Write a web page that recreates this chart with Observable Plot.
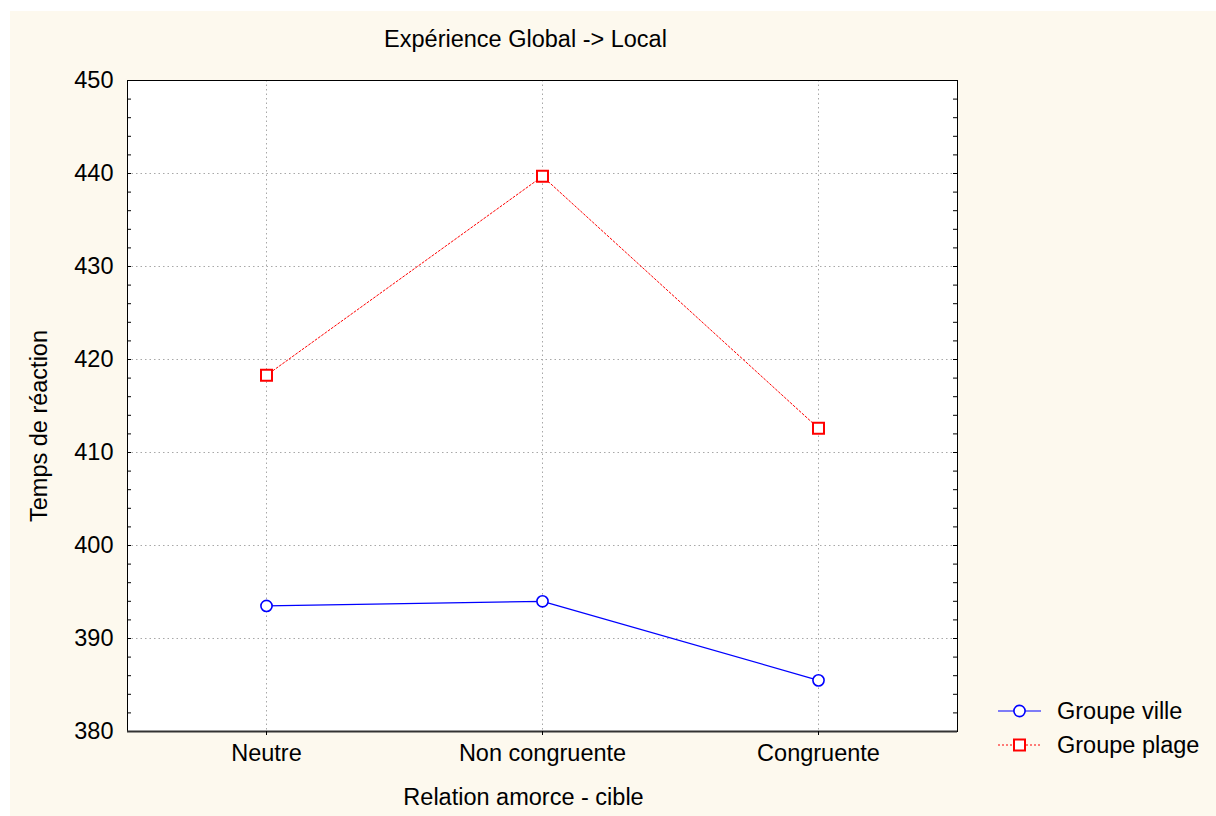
<!DOCTYPE html>
<html>
<head>
<meta charset="utf-8">
<script src="https://cdn.jsdelivr.net/npm/d3@7"></script>
<script src="https://cdn.jsdelivr.net/npm/@observablehq/plot@0.6"></script>
<style>
  html, body { margin: 0; padding: 0; background: #ffffff; }
  #panel { position: absolute; left: 10px; top: 11px; width: 1206px; height: 805px; background: #fdf9ee; overflow: hidden; }
  #legend { position: absolute; left: 988px; top: 683px; font-family: "Liberation Sans", Arial, sans-serif; font-size: 23.5px; color: #000; }
  .row { display: flex; align-items: center; height: 34px; }
  .row svg { margin-right: 4px; }
</style>
</head>
<body>
<div id="panel"><div id="chart"></div>
<div id="legend"></div></div>
<script>
const categories = ["Neutre", "Non congruente", "Congruente"];
const villeValues = [393.5, 394.0, 385.5];
const plageValues = [418.3, 439.7, 412.6];
const seriesNames = ["Groupe ville", "Groupe plage"];
const yTicks = [380, 390, 400, 410, 420, 430, 440, 450];
const yMinorTicks = d3.range(380, 451, 2);
const gridY = [390, 400, 410, 420, 430, 440];

const title = "Expérience Global -> Local";
const xLabel = "Relation amorce - cible";
const yLabel = "Temps de réaction";

const ville = categories.map((c, i) => ({cat: c, value: villeValues[i]}));
const plage = categories.map((c, i) => ({cat: c, value: plageValues[i]}));

const W = 1206, H = 805;
const mL = 117, mT = 69, mR = 259, mB = 85;
const frameW = W - mL - mR;
const font = "'Liberation Sans', Arial, sans-serif";
const fs = 23.5;

const chart = Plot.plot({
  width: W,
  height: H,
  marginLeft: mL,
  marginTop: mT,
  marginRight: mR,
  marginBottom: mB,
  style: {background: "transparent", fontFamily: font, fontSize: fs + "px", color: "#000", overflow: "visible"},
  x: {type: "point", domain: categories, padding: 0.5},
  y: {domain: [380, 450]},
  marks: [
    Plot.frame({fill: "white"}),
    Plot.ruleY(gridY, {stroke: "#a8a8a8", strokeDasharray: "1.5,3"}),
    Plot.ruleX(categories, {stroke: "#a8a8a8", strokeDasharray: "1.5,3"}),
    Plot.ruleY(yMinorTicks, {stroke: "#000", insetRight: frameW - 4}),
    Plot.ruleY(yMinorTicks, {stroke: "#000", insetLeft: frameW - 4}),
    Plot.frame({stroke: "#000", strokeWidth: 1}),
    Plot.ruleY([380], {stroke: "#333", strokeWidth: 2}),
    Plot.axisY({ticks: yTicks, tickSize: 0, tickPadding: 14, fontSize: fs, label: null}),
    Plot.axisX({tickSize: 4, tickPadding: 9, fontSize: fs, label: null}),
    Plot.line(plage, {x: "cat", y: "value", stroke: "#ff0000", strokeWidth: 1, strokeDasharray: "2,2"}),
    Plot.line(ville, {x: "cat", y: "value", stroke: "#0000ff", strokeWidth: 1.2}),
    Plot.dot(plage, {x: "cat", y: "value", symbol: "square", r: 6.2, fill: "white", stroke: "#ff0000", strokeWidth: 2}),
    Plot.dot(ville, {x: "cat", y: "value", symbol: "circle", r: 5.6, fill: "white", stroke: "#0000ff", strokeWidth: 1.6}),
    Plot.text([title], {frameAnchor: "top", dx: -17, dy: -41, lineAnchor: "middle", textAnchor: "middle", fontSize: fs, fill: "#000"}),
    Plot.text([xLabel], {frameAnchor: "bottom", dx: -19, dy: 66, lineAnchor: "middle", textAnchor: "middle", fontSize: fs, fill: "#000"}),
    Plot.text([yLabel], {frameAnchor: "left", dx: -88, dy: 20, rotate: -90, lineAnchor: "middle", textAnchor: "middle", fontSize: fs, fill: "#000"})
  ]
});
document.getElementById("chart").appendChild(chart);

// legend
const legend = document.getElementById("legend");
const legendSpecs = [
  {name: seriesNames[0], color: "#0000ff", dash: null, symbol: "circle"},
  {name: seriesNames[1], color: "#ff0000", dash: "2,2", symbol: "square"}
];
for (const s of legendSpecs) {
  const row = document.createElement("div");
  row.className = "row";
  const ns = "http://www.w3.org/2000/svg";
  const svg = document.createElementNS(ns, "svg");
  svg.setAttribute("width", 55);
  svg.setAttribute("height", 20);
  const line = document.createElementNS(ns, "line");
  line.setAttribute("x1", 0); line.setAttribute("x2", 43);
  line.setAttribute("y1", 10); line.setAttribute("y2", 10);
  line.setAttribute("stroke", s.color);
  line.setAttribute("stroke-width", 1.2);
  if (s.dash) line.setAttribute("stroke-dasharray", s.dash);
  svg.appendChild(line);
  let m;
  if (s.symbol === "circle") {
    m = document.createElementNS(ns, "circle");
    m.setAttribute("cx", 21.5); m.setAttribute("cy", 10); m.setAttribute("r", 5.6);
    m.setAttribute("stroke-width", 1.6);
  } else {
    m = document.createElementNS(ns, "rect");
    m.setAttribute("x", 16); m.setAttribute("y", 4.5); m.setAttribute("width", 11); m.setAttribute("height", 11);
    m.setAttribute("stroke-width", 2);
  }
  m.setAttribute("fill", "white");
  m.setAttribute("stroke", s.color);
  svg.appendChild(m);
  row.appendChild(svg);
  const label = document.createElement("span");
  label.textContent = s.name;
  row.appendChild(label);
  legend.appendChild(row);
}
</script>
</body>
</html>
